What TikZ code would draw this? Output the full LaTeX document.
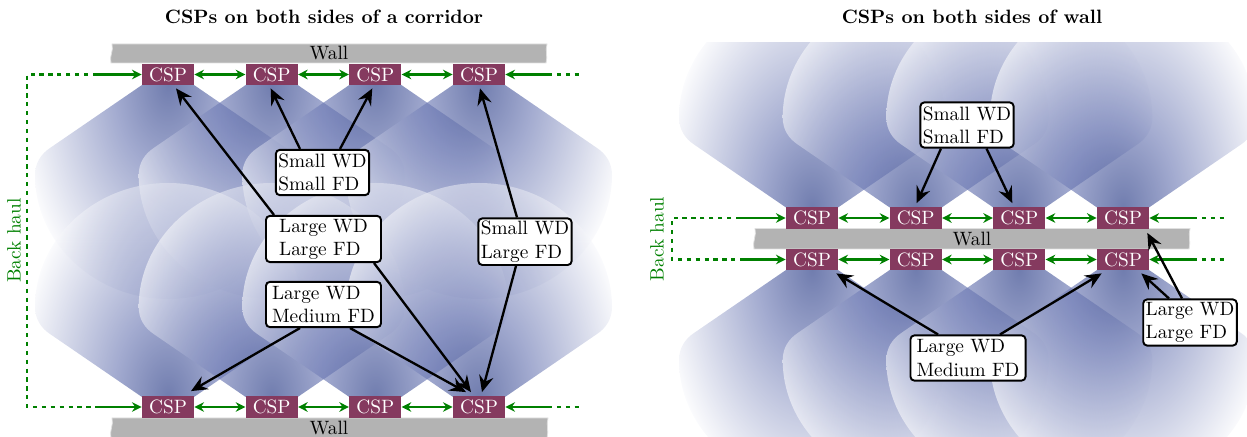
\documentclass[tikz,border=0pt]{standalone}
\usetikzlibrary{arrows.meta,calc}
\definecolor{beamc}{RGB}{25,45,125}
\definecolor{beammid}{RGB}{105,118,178}
\definecolor{cspc}{RGB}{133,58,95}
\definecolor{gcol}{RGB}{0,128,0}
\definecolor{wallc}{RGB}{179,179,179}
\pgfdeclareradialshading{beamshade}{\pgfpointorigin}{color(0bp)=(beamc); color(10bp)=(beammid); color(29bp)=(white); color(50bp)=(white)}
\tikzset{
  csp/.style={fill=cspc, text=white, minimum width=26.9pt, minimum height=10.9pt, inner sep=0pt},
  lbl/.style={draw, fill=white, line width=1pt, rounded corners=2pt, align=left,
              inner xsep=1.3pt, inner ysep=1.5pt, minimum height=23.4pt},
  wide/.style={minimum width=59.6pt},
  barrow/.style={line width=1.2pt, -{Stealth[length=8.5pt,width=7.5pt,inset=3pt]}},
  gline/.style={draw=gcol, line width=1.3pt},
  gone/.style={gline, -{Stealth[length=5pt,width=5pt]}},
  gtwo/.style={gline, {Stealth[length=5pt,width=5pt]}-{Stealth[length=5pt,width=5pt]}},
  gdot/.style={gline, dash pattern=on 2.2pt off 2.4pt},
  wallfill/.style={fill=wallc, draw=black!12, line width=0.4pt},
  beam/.pic={
    \shade[shading=beamshade, opacity=0.62]
      (0,-214)
      (-26,0) -- (-118,63) .. controls (-127,69) and (-133,78) .. (-133,90)
      .. controls (-133,158) and (-73,214) .. (0,214)
      .. controls (73,214) and (133,158) .. (133,90)
      .. controls (133,78) and (127,69) .. (118,63) -- (26,0) -- cycle;
  }
}
\begin{document}
\begin{tikzpicture}[x=0.518pt,y=-0.518pt]
\useasboundingbox (0,0) rectangle (1247,437);

% ---------------- titles
\node[font=\bfseries, anchor=base] (title1) at (324,23.5) {CSPs on both sides of a corridor};
\node[font=\bfseries, anchor=base] (title2) at (972,23.5) {CSPs on both sides of wall};

% ---------------- left panel beams
\foreach \x in {168,271.7,375.3,479} {
  \pic at (\x,85) {beam};
}
\foreach \x in {168,271.7,375.3,479} {
  \pic[yscale=-1] at (\x,397) {beam};
}

% ---------------- right panel beams
\begin{scope}
\clip (640,43) rectangle (1247,437);
\foreach \x in {812,915.7,1019.3,1123} {
  \pic[yscale=-1] at (\x,207.5) {beam};
}
\foreach \x in {812,915.7,1019.3,1123} {
  \pic at (\x,270) {beam};
}
\end{scope}

% ---------------- walls
\path[wallfill] (112,44) -- (547,44) .. controls (545,51) and (548,56) .. (546,63)
  -- (111,63) .. controls (109,56) and (114,51) .. (112,44) -- cycle;
\node (wall1) at (329,53.5) {Wall};
\path[wallfill] (112,418) -- (548,418) .. controls (546,425) and (549,431) .. (547,438)
  -- (111,438) .. controls (109,431) and (114,425) .. (112,418) -- cycle;
\node (wall2) at (329,428) {Wall};
\path[wallfill] (755,228.5) -- (1190,228.5) .. controls (1188,235) and (1191,242) .. (1189,249)
  -- (754,249) .. controls (752,242) and (757,235) .. (755,228.5) -- cycle;
\node (wall3) at (972,239) {Wall};

% ---------------- CSP nodes
\node[csp] (t1) at (168,74.5) {CSP};
\node[csp] (t2) at (271.7,74.5) {CSP};
\node[csp] (t3) at (375.3,74.5) {CSP};
\node[csp] (t4) at (479,74.5) {CSP};
\node[csp] (b1) at (168,407) {CSP};
\node[csp] (b2) at (271.7,407) {CSP};
\node[csp] (b3) at (375.3,407) {CSP};
\node[csp] (b4) at (479,407) {CSP};
\node[csp] (rt1) at (812,218) {CSP};
\node[csp] (rt2) at (915.7,218) {CSP};
\node[csp] (rt3) at (1019.3,218) {CSP};
\node[csp] (rt4) at (1123,218) {CSP};
\node[csp] (rb1) at (812,259.5) {CSP};
\node[csp] (rb2) at (915.7,259.5) {CSP};
\node[csp] (rb3) at (1019.3,259.5) {CSP};
\node[csp] (rb4) at (1123,259.5) {CSP};

% ---------------- green links, left panel
\coordinate (la) at (97,74.5);
\coordinate (lb) at (97,407);
\coordinate (lc) at (548,74.5);
\coordinate (ld) at (548,407);
\draw[gdot] (la) -- (27,74.5) -- (27,407) -- (lb);
\draw[gone] (la) -- (t1);
\draw[gone] (lb) -- (b1);
\draw[gtwo] (t1) -- (t2);
\draw[gtwo] (t2) -- (t3);
\draw[gtwo] (t3) -- (t4);
\draw[gtwo] (b1) -- (b2);
\draw[gtwo] (b2) -- (b3);
\draw[gtwo] (b3) -- (b4);
\draw[gone] (lc) -- (t4);
\draw[gone] (ld) -- (b4);
\draw[gdot] (lc) -- ++(32,0);
\draw[gdot] (ld) -- ++(32,0);
\node[rotate=90, text=gcol] (bh1) at (14,240.5) {Back haul};

% ---------------- green links, right panel
\coordinate (ra) at (740,218);
\coordinate (rb) at (740,259.5);
\coordinate (rc) at (1193,218);
\coordinate (rd) at (1193,259.5);
\draw[gdot] (ra) -- (672,218) -- (672,259.5) -- (rb);
\draw[gone] (ra) -- (rt1);
\draw[gone] (rb) -- (rb1);
\draw[gtwo] (rt1) -- (rt2);
\draw[gtwo] (rt2) -- (rt3);
\draw[gtwo] (rt3) -- (rt4);
\draw[gtwo] (rb1) -- (rb2);
\draw[gtwo] (rb2) -- (rb3);
\draw[gtwo] (rb3) -- (rb4);
\draw[gone] (rc) -- (rt4);
\draw[gone] (rd) -- (rb4);
\draw[gdot] (rc) -- ++(32,0);
\draw[gdot] (rd) -- ++(32,0);
\node[rotate=90, text=gcol] (bh2) at (657,239) {Back haul};

% ---------------- labels
\node[lbl] (ss) at (322.5,172.5) {Small WD\\Small FD};
\node[lbl,wide] (ll) at (323.5,239) {Large WD\\Large FD};
\node[lbl,wide] (lm) at (323.5,304.5) {Large WD\\Medium FD};
\node[lbl] (sl) at (525,241.7) {Small WD\\Large FD};
\node[lbl] (rss) at (967,125) {Small WD\\Small FD};
\node[lbl,wide] (rlm) at (968,358) {Large WD\\Medium FD};
\node[lbl] (rll) at (1190,322.5) {Large WD\\Large FD};

% ---------------- black arrows, left panel
\draw[barrow] ($(ss.north)+(-22.5,0)$) -- ($(t2.south)+(-1,3)$);
\draw[barrow] ($(ss.north)+(17.5,0)$) -- ($(t3.south)+(-3,3)$);
\draw[barrow] ($(ll.north west)+(9,0)$) -- ($(t1.south)+(8,3)$);
\draw[barrow] ($(ll.south east)+(-8,0)$) -- ($(b4.north)+(-8,-4)$);
\draw[barrow] ($(lm.south)+(-23.5,0)$) -- ($(b1.north)+(23,-5)$);
\draw[barrow] ($(lm.south)+(26.5,0)$) -- ($(b4.north)+(-13,-4)$);
\draw[barrow] ($(sl.north)+(-8,0)$) -- ($(t4.south)+(1,3)$);
\draw[barrow] ($(sl.south)+(-9,0)$) -- ($(b4.north)+(3,-4)$);

% ---------------- black arrows, right panel
\draw[barrow] ($(rss.south)+(-26,0)$) -- ($(rt2.north)+(1,-4)$);
\draw[barrow] ($(rss.south)+(19.5,0)$) -- ($(rt3.north)+(-7,-4)$);
\draw[barrow] ($(rlm.north)+(-30,0)$) -- ($(rb1.south east)+(-2,3)$);
\draw[barrow] ($(rlm.north)+(32,0)$) -- ($(rb4.south west)+(5,3)$);
\draw[barrow] ($(rll.north)+(-21,0)$) -- ($(rb4.south east)+(-8,3)$);
\draw[barrow] ($(rll.north)+(-8,0)$) -- ($(rt4.south east)+(-2,4)$);
\end{tikzpicture}
\end{document}
